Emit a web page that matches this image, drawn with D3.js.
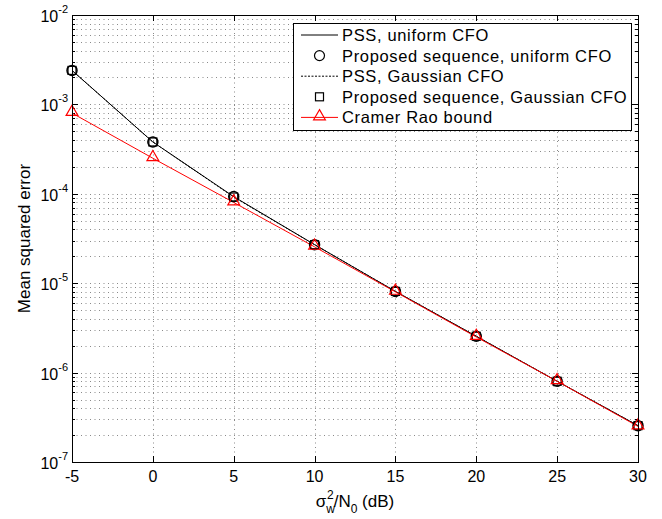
<!DOCTYPE html>
<html>
<head>
<meta charset="utf-8">
<script src="https://cdnjs.cloudflare.com/ajax/libs/d3/7.8.5/d3.min.js"></script>
<style>
body { margin: 0; background: #fff; }
text { font-family: "Liberation Sans", Arial, sans-serif; }
</style>
</head>
<body>
<svg id="chart"></svg>
<script>
// data
var snr = [-5, 0, 5, 10, 15, 20, 25, 30];
var pssUniform = [2.4e-3, 3.8e-4, 9.3e-5, 2.7e-5, 8.1e-6, 2.55e-6, 8.0e-7, 2.55e-7];
var propUniform = [2.4e-3, 3.8e-4, 9.3e-5, 2.7e-5, 8.1e-6, 2.55e-6, 8.0e-7, 2.55e-7];
var pssGauss = [2.4e-3, 3.8e-4, 9.2e-5, 2.7e-5, 8.1e-6, 2.55e-6, 8.0e-7, 2.55e-7];
var propGauss = [2.4e-3, 3.8e-4, 9.2e-5, 2.7e-5, 8.1e-6, 2.55e-6, 8.0e-7, 2.55e-7];
var crb = [8.0e-4, 2.5e-4, 8.0e-5, 2.55e-5, 8.0e-6, 2.5e-6, 8.0e-7, 2.5e-7];
var xTicks = [-5, 0, 5, 10, 15, 20, 25, 30];
var yExps = [-7, -6, -5, -4, -3, -2];
var legendLabels = ["PSS, uniform CFO", "Proposed sequence, uniform CFO", "PSS, Gaussian CFO",
  "Proposed sequence, Gaussian CFO", "Cramer Rao bound"];

var W = 662, H = 519;
var mL = 72, mR = 638, mT = 15, mB = 462;

var svg = d3.select("#chart").attr("width", W).attr("height", H);

var x = d3.scaleLinear().domain([-5, 30]).range([mL, mR]);
var y = d3.scaleLog().domain([1e-7, 1e-2]).range([mB, mT]);

// minor + major y values
var yMinor = [];
for (var e = -7; e < -2; e++) {
  for (var m = 2; m <= 9; m++) yMinor.push(m * Math.pow(10, e));
}
var yMajor = yExps.map(function(e) { return Math.pow(10, e); });

// grid
var grid = svg.append("g").attr("stroke", "#8a8a8a").attr("stroke-width", 1)
  .attr("stroke-dasharray", "1,3.5");
grid.selectAll(".gx").data(xTicks.slice(1, -1)).enter().append("line")
  .attr("x1", function(d) { return Math.round(x(d)) + 0.5; })
  .attr("x2", function(d) { return Math.round(x(d)) + 0.5; })
  .attr("y1", mT).attr("y2", mB);
grid.selectAll(".gy").data(yMinor.concat(yMajor.slice(1, -1))).enter().append("line")
  .attr("y1", function(d) { return Math.round(y(d)) + 0.5; })
  .attr("y2", function(d) { return Math.round(y(d)) + 0.5; })
  .attr("x1", mL).attr("x2", mR);

// ticks (inside, both sides)
var ticks = svg.append("g").attr("stroke", "#000").attr("stroke-width", 1);
xTicks.forEach(function(d) {
  var xx = Math.round(x(d)) + 0.5;
  ticks.append("line").attr("x1", xx).attr("x2", xx).attr("y1", mB).attr("y2", mB - 6);
  ticks.append("line").attr("x1", xx).attr("x2", xx).attr("y1", mT).attr("y2", mT + 6);
});
yMajor.forEach(function(d) {
  var yy = Math.round(y(d)) + 0.5;
  ticks.append("line").attr("y1", yy).attr("y2", yy).attr("x1", mL).attr("x2", mL + 6);
  ticks.append("line").attr("y1", yy).attr("y2", yy).attr("x1", mR).attr("x2", mR - 6);
});
yMinor.forEach(function(d) {
  var yy = Math.round(y(d)) + 0.5;
  ticks.append("line").attr("y1", yy).attr("y2", yy).attr("x1", mL).attr("x2", mL + 3);
  ticks.append("line").attr("y1", yy).attr("y2", yy).attr("x1", mR).attr("x2", mR - 3);
});

// x axis labels
svg.append("g").selectAll("text").data(xTicks).enter().append("text")
  .attr("x", function(d) { return x(d); })
  .attr("y", mB + 20)
  .attr("text-anchor", "middle")
  .attr("font-size", 16)
  .text(function(d) { return d; });

// y axis labels 10^e
var yl = svg.append("g").selectAll("text").data(yExps).enter().append("text")
  .attr("x", mL - 4)
  .attr("y", function(d) { return y(Math.pow(10, d)) + 7; })
  .attr("text-anchor", "end")
  .attr("font-size", 16);
yl.append("tspan").text("10");
yl.append("tspan").attr("dy", -9).attr("font-size", 11).text(function(d) { return "-" + (-d); });

// axis titles
var xt = svg.append("text").attr("x", (mL + mR) / 2).attr("y", 507)
  .attr("text-anchor", "middle").attr("font-size", 17);
xt.append("tspan").text("\u03c3");
xt.append("tspan").attr("dy", 6).attr("font-size", 12).text("w");
xt.append("tspan").attr("dx", -8).attr("dy", -14).attr("font-size", 12).text("2");
xt.append("tspan").attr("dy", 8).text("/N");
xt.append("tspan").attr("dy", 6).attr("font-size", 12).text("0");
xt.append("tspan").attr("dy", -6).text(" (dB)");

svg.append("text")
  .attr("transform", "translate(30," + ((mT + mB) / 2) + ") rotate(-90)")
  .attr("text-anchor", "middle").attr("font-size", 17)
  .text("Mean squared error");

// series
var line = d3.line()
  .x(function(d, i) { return x(snr[i]); })
  .y(function(d) { return y(d); });

svg.append("path").datum(pssUniform).attr("d", line)
  .attr("fill", "none").attr("stroke", "#000").attr("stroke-width", 1);
svg.append("path").datum(pssGauss).attr("d", line)
  .attr("fill", "none").attr("stroke", "#000").attr("stroke-width", 1).attr("stroke-dasharray", "2,1.5");
svg.append("path").datum(crb).attr("d", line)
  .attr("fill", "none").attr("stroke", "#ff0000").attr("stroke-width", 1);

function circles(data) {
  svg.append("g").selectAll("circle").data(data).enter().append("circle")
    .attr("cx", function(d, i) { return x(snr[i]); })
    .attr("cy", function(d) { return y(d); })
    .attr("r", 5).attr("fill", "none").attr("stroke", "#000").attr("stroke-width", 1.5);
}
function squares(data) {
  svg.append("g").selectAll("rect").data(data).enter().append("rect")
    .attr("x", function(d, i) { return x(snr[i]) - 4; })
    .attr("y", function(d) { return y(d) - 4; })
    .attr("width", 8).attr("height", 8)
    .attr("fill", "none").attr("stroke", "#000").attr("stroke-width", 1.2);
}
var tri = d3.symbol().type(d3.symbolTriangle).size(60);
function triangles(data) {
  svg.append("g").selectAll("path").data(data).enter().append("path")
    .attr("d", tri)
    .attr("transform", function(d, i) { return "translate(" + x(snr[i]) + "," + (y(d) - 1) + ")"; })
    .attr("fill", "none").attr("stroke", "#ff0000").attr("stroke-width", 1.2);
}
circles(propUniform);
squares(propGauss);
triangles(crb);

// box
svg.append("rect").attr("x", mL + 0.5).attr("y", mT + 0.5)
  .attr("width", mR - mL).attr("height", mB - mT)
  .attr("fill", "none").attr("stroke", "#000").attr("stroke-width", 1);

// legend
var lg = svg.append("g");
lg.append("rect").attr("x", 293.5).attr("y", 23.5).attr("width", 338).attr("height", 107)
  .attr("fill", "#fff").attr("stroke", "#000").attr("stroke-width", 1);
var rowY = function(i) { return 35 + i * 20.6; };
var lx1 = 301, lx2 = 338, lmid = 319.5;
lg.append("line").attr("x1", lx1).attr("x2", lx2).attr("y1", rowY(0)).attr("y2", rowY(0))
  .attr("stroke", "#000");
lg.append("circle").attr("cx", lmid).attr("cy", rowY(1)).attr("r", 5)
  .attr("fill", "none").attr("stroke", "#000").attr("stroke-width", 1.2);
lg.append("line").attr("x1", lx1).attr("x2", lx2).attr("y1", rowY(2)).attr("y2", rowY(2))
  .attr("stroke", "#000").attr("stroke-dasharray", "2,1.5");
lg.append("rect").attr("x", lmid - 4).attr("y", rowY(3) - 4).attr("width", 8).attr("height", 8)
  .attr("fill", "none").attr("stroke", "#000").attr("stroke-width", 1.2);
lg.append("line").attr("x1", lx1).attr("x2", lx2).attr("y1", rowY(4)).attr("y2", rowY(4))
  .attr("stroke", "#ff0000");
lg.append("path").attr("d", tri).attr("transform", "translate(" + lmid + "," + (rowY(4) - 1) + ")")
  .attr("fill", "none").attr("stroke", "#ff0000").attr("stroke-width", 1.2);
lg.selectAll("text.lab").data(legendLabels).enter().append("text")
  .attr("x", 342).attr("y", function(d, i) { return rowY(i) + 6; })
  .attr("font-size", 16.5).attr("letter-spacing", 0.65).text(function(d) { return d; });
</script>
</body>
</html>
